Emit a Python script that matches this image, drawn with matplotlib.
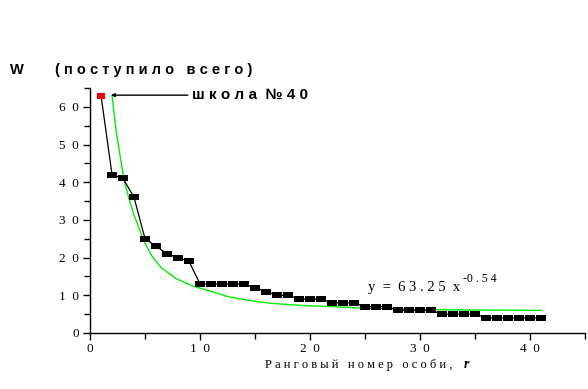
import matplotlib.pyplot as plt
from matplotlib.ticker import MultipleLocator

# rank and number of pupils (W)
rank = list(range(1, 42))
W = [63, 42, 41, 36, 25, 23, 21, 20, 19,
     13, 13, 13, 13, 13, 12, 11, 10, 10,
     9, 9, 9, 8, 8, 8, 7, 7, 7,
     6, 6, 6, 6, 5, 5, 5, 5,
     4, 4, 4, 4, 4, 4]

# fitted curve
fit_x = [2.0, 2.4, 3.1, 3.5, 4.0, 4.85, 5.6, 6.5, 7.9, 9.4, 10.6, 12.6,
         14.5, 16.4, 18.2, 20, 22, 24, 27, 30, 35, 41]
fit_y = [63, 53, 40.5, 36, 31.3, 24.7, 20.5, 17.2, 14.3, 12.4, 11.4, 9.6,
         8.6, 7.9, 7.5, 7.2, 7.0, 6.7, 6.4, 6.2, 6.1, 6.0]

xticks = [0, 10, 20, 30, 40]
yticks = [0, 10, 20, 30, 40, 50, 60]

serif = 'Liberation Serif'
sans = 'Liberation Sans'
rect = [(-1.5, -1), (1.5, -1), (1.5, 1), (-1.5, 1)]

fig = plt.figure(figsize=(5.88, 3.89), dpi=100)
ax = fig.add_axes([0.1531, 0.144, 0.8418, 0.6298])

ax.plot(fit_x, fit_y, color='#00ee00', lw=1)
ax.plot(rank, W, color='black', lw=0.9)
ax.plot(rank[1:], W[1:], ls='none', marker=rect, ms=6.5,
        mfc='black', mec='black', mew=0)
ax.plot(rank[:1], W[:1], ls='none', marker=rect, ms=6,
        mfc='#ee0000', mec='#ee0000', mew=0)

ax.set_xlim(0, 45)
ax.set_ylim(0, 65)
ax.set_xticks(xticks)
ax.set_yticks(yticks)
ax.set_xticklabels(['\u2002'.join(str(t)) for t in xticks], family=serif, fontsize=9.5)
ax.set_yticklabels(['\u2002'.join(str(t)) for t in yticks], family=serif, fontsize=9.5)
ax.xaxis.set_minor_locator(MultipleLocator(5))
ax.yaxis.set_minor_locator(MultipleLocator(5))
ax.tick_params(which='both', direction='out', length=5, width=1)
ax.tick_params(which='minor', length=4)
ax.tick_params(axis='x', pad=2)
ax.tick_params(axis='y', pad=3)
for s in ['top', 'right']:
    ax.spines[s].set_visible(False)
for s in ['left', 'bottom']:
    ax.spines[s].set_linewidth(1)

# annotation for school No 40
ax.annotate('', xy=(1.9, 63.1), xytext=(8.9, 63.1),
            arrowprops=dict(arrowstyle='-|>', color='black', lw=1,
                            mutation_scale=5, shrinkA=0, shrinkB=0))
ax.text(9.3, 63.1, 'ш к о л а  № 4 0', family=sans, fontweight='bold',
        fontsize=11, va='center', ha='left')

# equation of the fit
ax.text(25.3, 11.2, 'y  =  6 3 . 2 5  x', family=serif,
        fontsize=10.5, va='baseline', ha='left')
ax.text(33.9, 13.6, '-0 . 5 4', family=serif,
        fontsize=8.5, va='baseline', ha='left')

fig.text(10 / 588, 1 - 70 / 389, 'W', family=sans, fontweight='bold',
         fontsize=10.5, va='center', ha='left')
fig.text(55 / 588, 1 - 70 / 389, '( п о с т у п и л о   в с е г о )',
         family=sans, fontweight='bold', fontsize=10.5, va='center', ha='left')

fig.text(265 / 588, 1 - 365 / 389, 'Р а н г о в ы й   н о м е р   о с о б и ,',
         family=serif, fontsize=9, va='center', ha='left')
fig.text(464 / 588, 1 - 365 / 389, 'r', family=serif, fontweight='bold',
         style='italic', fontsize=10, va='center', ha='left')

fig.savefig('out.png', dpi=100)
